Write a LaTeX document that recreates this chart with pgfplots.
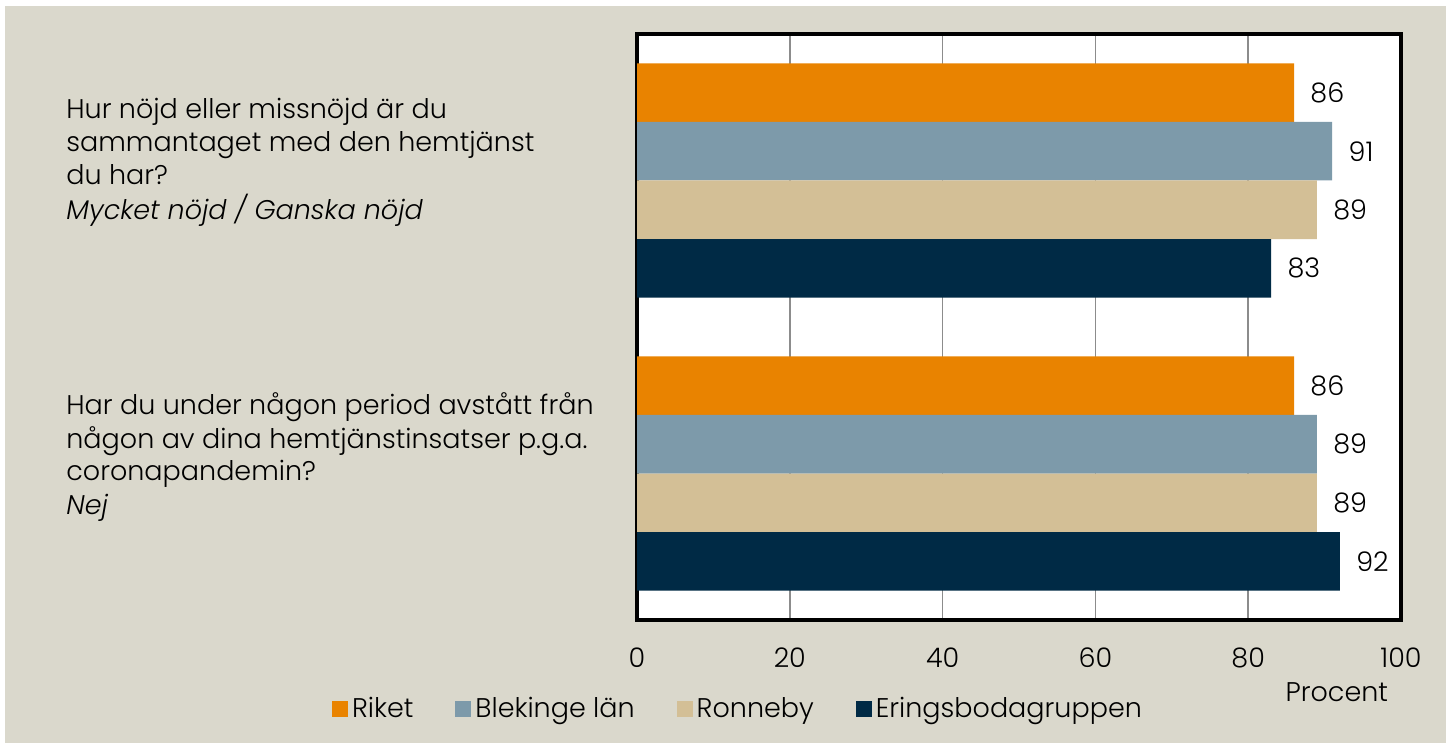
\documentclass[border=0pt]{standalone}
\usepackage{pgfplots}
\pgfplotsset{compat=1.18}
\usepackage{fontspec}
\setmainfont{Poppins}[UprightFont=* Light, ItalicFont=* Light Italic]
\definecolor{bgbeige}{HTML}{DAD8CC}
\definecolor{corange}{HTML}{E98300}
\definecolor{cblue}{HTML}{7D9AAA}
\definecolor{ctan}{HTML}{D3BF96}
\definecolor{cnavy}{HTML}{002A45}
\definecolor{cgrid}{HTML}{8C8C8C}
\begin{document}
\begin{tikzpicture}
\fill[white] (0,0) rectangle (723pt,371.5pt);
\fill[bgbeige] (2.5pt,0) rectangle (723pt,368.5pt);
\begin{axis}[
  at={(318.5pt,61.5pt)}, anchor=south west,
  scale only axis, width=382pt, height=293pt,
  xbar, bar width=0.2,
  xmin=0, xmax=100, ymin=-0.5, ymax=1.5, y dir=reverse,
  xtick={0,20,40,60,80,100}, ytick=\empty,
  major tick length=0pt,
  xmajorgrids, major grid style={cgrid, line width=0.75pt},
  axis line style={black, line width=2.3pt},
  axis background/.style={fill=white},
  /pgf/number format/assume math mode=true,
  font=\fontsize{13.5pt}{16pt}\selectfont,
  xticklabel style={anchor=base, yshift=-23.5pt, font=\fontsize{13.5pt}{16pt}\selectfont},
  xlabel={Procent},
  xlabel style={at={(axis description cs:0.916,-0.123)}, anchor=center, font=\fontsize{13.5pt}{16pt}\selectfont},
  nodes near coords,
  nodes near coords style={anchor=west, inner sep=0pt, xshift=8pt, font=\fontsize{13.5pt}{16pt}\selectfont, text=black},
  every axis plot post/.append style={draw=none, legend image code/.code={\fill[##1, draw=none] (0pt,-4pt) rectangle (8pt,4pt);}},
  legend columns=4,
  legend style={at={(axis description cs:0.1335,-0.152)}, anchor=center, draw=none, fill=none,
    font=\fontsize{13.5pt}{16pt}\selectfont,
    /tikz/every even column/.append style={column sep=19pt},
    /tikz/every odd column/.append style={column sep=0pt},
    nodes={inner sep=2pt}},
  clip=false,
]
\addplot[fill=corange, bar shift=-0.3] coordinates {(86,0) (86,1)};
\addplot[fill=cblue, bar shift=-0.1] coordinates {(91,0) (89,1)};
\addplot[fill=ctan, bar shift=0.1] coordinates {(89,0) (89,1)};
\addplot[fill=cnavy, bar shift=0.3] coordinates {(83,0) (92,1)};
\legend{Riket, Blekinge län, Ronneby, Eringsbodagruppen}
\end{axis}
\begin{scope}[every node/.style={anchor=base west, inner sep=0pt, font=\fontsize{13.5pt}{16pt}\selectfont}]
\node at (33pt,312pt) {Hur nöjd eller missnöjd är du};
\node at (33pt,295.5pt) {sammantaget med den hemtjänst};
\node at (33pt,279pt) {du har?};
\node at (33pt,261.5pt) {\itshape Mycket nöjd / Ganska nöjd};
\node at (33pt,164pt) {Har du under någon period avstått från};
\node at (33pt,147pt) {någon av dina hemtjänstinsatser p.g.a.};
\node at (33pt,131pt) {coronapandemin?};
\node at (33pt,114pt) {\itshape Nej};
\end{scope}
\end{tikzpicture}
\end{document}
